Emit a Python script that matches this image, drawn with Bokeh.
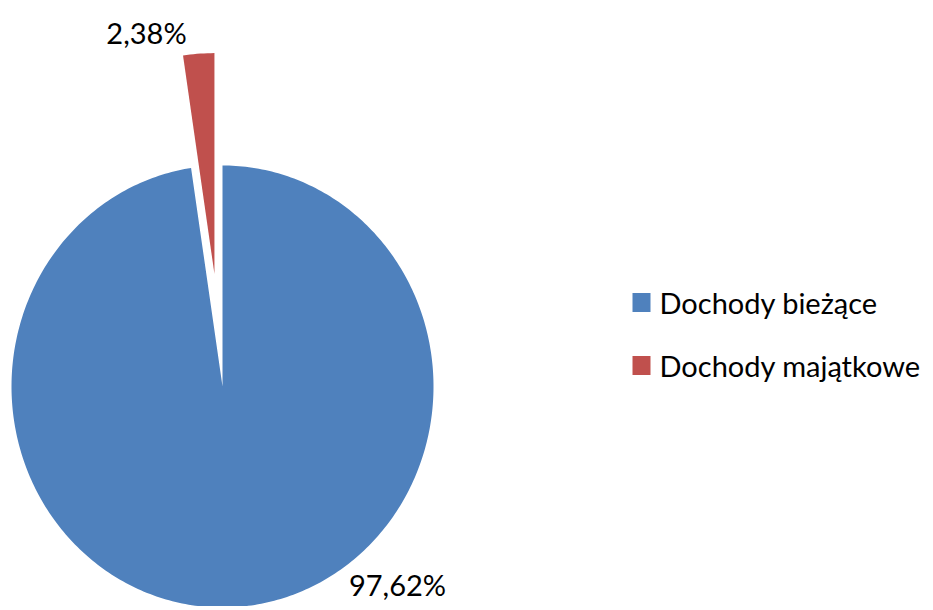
import math
from bokeh.plotting import figure
from bokeh.models import Range1d
from bokeh.core.properties import value
from bokeh.embed import file_html
from bokeh.resources import INLINE

categories = ["Dochody bieżące", "Dochody majątkowe"]
shares = [97.62, 2.38]
labels = ["97,62%", "2,38%"]
colors = ["#4F81BD", "#C0504D"]
explode = [0.0, 0.51]

W, H = 925, 606
OFF = 0  # page offset of the figure
# pixel geometry (page coords) -> data coords; radius 1 = 211 px wide, 221 px tall
CX, CY, RX, RY = 222, 386, 211, 221
x0 = (OFF - CX) / RX
x1 = (OFF + W - CX) / RX
y0 = (CY - (OFF + H)) / RY
y1 = (CY - OFF) / RY

p = figure(width=W, height=H, output_backend="svg", toolbar_location=None,
           x_range=Range1d(x0, x1), y_range=Range1d(y0, y1),
           min_border=0)
p.axis.visible = False
p.grid.visible = False
p.outline_line_color = None
p.background_fill_color = "white"
p.border_fill_color = "white"

total = sum(shares)
start = 0.0
xs, ys = [], []
for s, e in zip(shares, explode):
    span = s / total * 2 * math.pi
    a0, a1 = start, start + span
    mid = (a0 + a1) / 2
    ox, oy = e * math.sin(mid), e * math.cos(mid)
    n = max(4, int(span / (2 * math.pi) * 400))
    px = [ox] + [ox + math.sin(a0 + (a1 - a0) * k / n) for k in range(n + 1)]
    py = [oy] + [oy + math.cos(a0 + (a1 - a0) * k / n) for k in range(n + 1)]
    xs.append(px)
    ys.append(py)
    start = a1

p.patches(xs=xs, ys=ys, fill_color=colors, line_color=None)

def dx(px):
    return (px - CX) / RX

def dy(py):
    return (CY - py) / RY

# data labels
lab_x = [dx(397), dx(146)]
lab_y = [dy(584), dy(32)]
p.text(x=lab_x, y=lab_y, text=labels, text_align="center", text_baseline="middle",
       text_font=value("Lato"), text_font_size="29px", text_color="#000000")

# legend
leg_x = [dx(641), dx(641)]
leg_y = [dy(302), dy(365)]
p.rect(x=leg_x, y=leg_y, width=18, height=19, width_units="screen",
       height_units="screen", fill_color=colors, line_color=None)
p.text(x=[dx(659)] * 2, y=leg_y, text=categories, text_align="left",
       text_baseline="middle", text_font=value("Lato"), text_font_size="29px",
       text_color="#000000")

open("out.html", "w").write(file_html(p, INLINE))
